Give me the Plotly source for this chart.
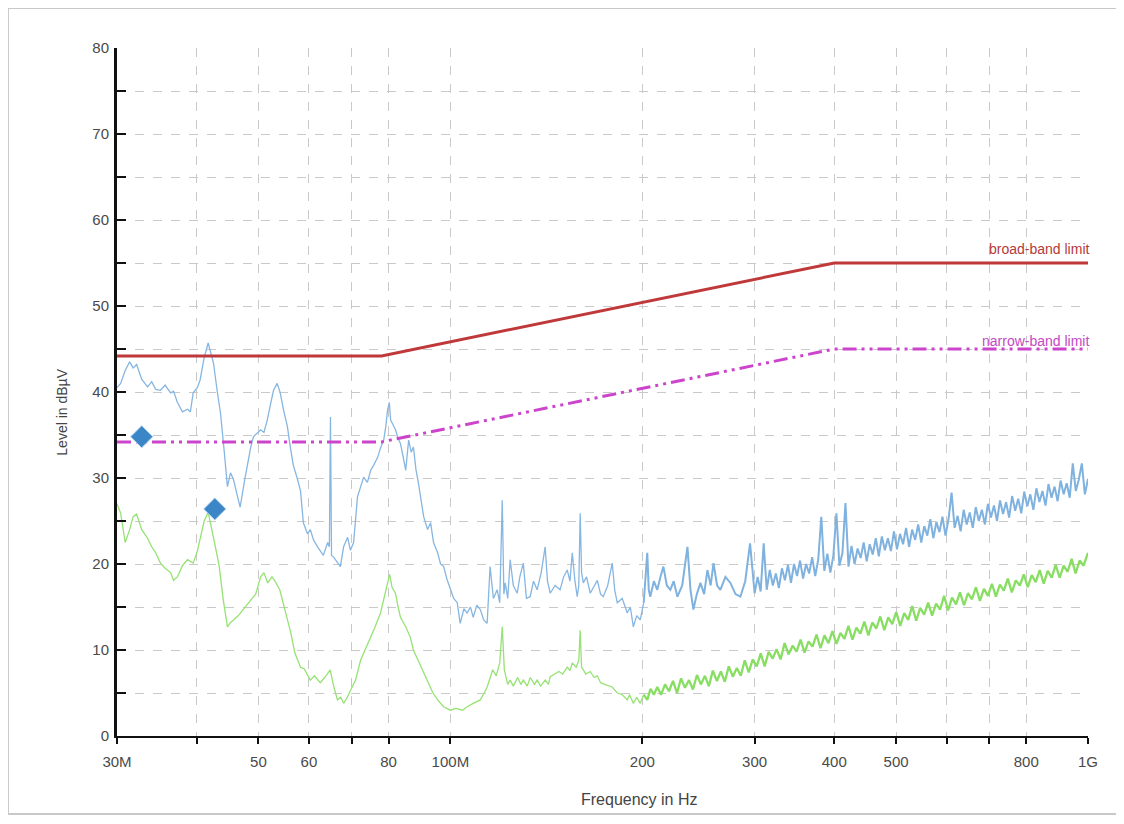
import plotly.graph_objects as go

# ---------------- data ----------------
peak_freq_mhz = [
    30.0, 30.4, 30.9, 31.4, 31.8, 32.2, 32.8, 33.5, 34.0, 34.5, 35.1, 35.7, 36.4, 36.8, 37.3, 38.0,
    38.7, 39.1, 39.5, 40.1, 40.5, 41.1, 41.7, 42.1, 42.5, 43.1, 43.6, 44.2, 44.7, 45.2, 45.7, 46.3,
    46.8, 47.5, 48.1, 48.6, 49.1, 49.8, 50.4, 51.0, 51.6, 52.2, 52.8, 53.5, 54.1, 54.7, 55.5, 56.1,
    56.7, 57.5, 58.2, 58.8, 59.7, 60.3, 61.0, 61.9, 62.5, 63.2, 64.2, 64.6, 64.85, 65.1, 65.6, 66.5,
    67.2, 68.0, 69.0, 69.7, 70.5, 71.5, 72.3, 73.1, 74.1, 75.0, 75.8, 76.9, 77.7, 78.6, 79.2, 79.7,
    80.2, 80.6, 81.3, 82.0, 82.8, 83.5, 84.3, 85.1, 86.0, 86.8, 87.5, 88.3, 89.1, 90.0, 90.8, 92.1,
    93.1, 94.1, 95.5, 96.5, 97.6, 98.8, 100.0, 101.2, 102.5, 103.6, 105.0, 106.2, 107.5, 108.6, 110.0,
    111.4, 112.8, 114.2, 115.4, 116.8, 118.4, 119.5, 120.6, 121.3, 121.9, 123.0, 124.1, 125.5, 127.3,
    128.5, 130.1, 131.6, 133.4, 135.0, 136.8, 138.8, 140.8, 142.0, 143.4, 146.0, 148.6, 150.5, 152.5,
    154.0, 155.3, 156.8, 158.1, 159.0, 159.8, 160.6, 161.6, 163.5, 165.7, 168.0, 170.0, 172.0, 173.7,
    176.5, 179.4, 181.0, 182.7, 186.0, 189.4, 191.5, 193.6, 196.0, 198.5, 201.0, 203.6, 204.7, 205.8,
    208.5, 211.1, 213.5, 215.8, 218.5, 221.3, 224.0, 227.0, 231.0, 235.4, 238.0, 240.5, 243.5, 246.7,
    250.0, 253.0, 256.0, 258.6, 262.0, 265.1, 270.0, 274.9, 280.0, 285.0, 290.0, 295.1,
    300.0, 303.3, 306.6, 310.0, 313.4, 316.9, 320.4, 323.9, 327.5, 331.1, 334.7, 338.4, 342.1, 345.9,
    349.7, 353.5, 357.4, 361.3, 365.3, 369.3, 373.4, 377.5, 381.7, 385.9, 390.1, 394.4, 398.7, 403.1,
    407.5, 412.0, 416.5, 421.1, 425.7, 430.4, 435.2, 440.0, 444.8, 449.7, 454.6, 459.6, 464.7, 469.8,
    475.0, 480.2, 485.5, 490.8, 496.2, 501.7, 507.2, 512.8, 518.4, 524.1, 529.9, 535.7, 541.6, 547.6,
    553.6, 559.7, 565.9, 572.1, 578.4, 584.8, 591.2, 597.7, 604.3, 611.0, 617.7, 624.5, 631.3, 638.3,
    645.3, 652.4, 659.6, 666.8, 674.2, 681.6, 689.1, 696.7, 704.3, 712.1, 719.9, 727.8, 735.8, 743.9,
    752.1, 760.4, 768.8, 777.2, 785.8, 794.4, 803.2, 812.0, 820.9, 830.0, 839.1, 848.3, 857.7, 867.1,
    876.6, 886.3, 896.0, 905.9, 915.9, 926.0, 936.1, 946.4, 956.8, 967.3, 978.0, 988.8, 1000.0,
]
peak_level_dbuv = [
    40.5, 41.0, 42.5, 43.5, 42.8, 43.2, 41.5, 40.6, 41.2, 40.3, 40.2, 40.8, 39.9, 40.1, 38.8, 37.7,
    38.0, 37.7, 39.9, 40.5, 41.4, 44.0, 45.7, 44.5, 43.4, 40.0, 37.5, 33.0, 29.0, 30.6, 29.8, 28.0,
    26.6, 29.5, 31.7, 33.5, 34.8, 35.2, 35.6, 35.3, 36.7, 38.5, 40.2, 41.0, 39.9, 38.0, 36.0, 33.6,
    31.5, 30.0, 28.5, 24.8, 23.5, 24.0, 22.8, 22.0, 21.6, 21.0, 22.5, 22.0, 37.1, 21.0, 20.8, 20.2,
    19.7, 22.0, 23.1, 21.6, 22.5, 27.8, 29.0, 30.1, 29.5, 30.9, 31.5, 32.4, 33.5, 34.4, 36.0, 37.9,
    38.8, 36.7, 36.2, 35.6, 34.6, 34.0, 32.5, 30.9, 34.4, 33.0, 33.6, 31.0, 29.4, 27.0, 25.5, 24.0,
    24.8, 22.5, 21.3, 20.0, 19.7, 18.2, 17.0, 16.0, 15.5, 13.1, 14.8, 14.3, 15.0, 13.8, 15.2,
    14.7, 13.5, 13.1, 19.7, 16.0, 17.0, 15.5, 27.4, 16.5, 17.8, 16.0, 20.5, 17.5, 16.6,
    18.5, 20.1, 16.0, 16.2, 18.0, 17.0, 19.0, 22.0, 18.0, 16.6, 17.5, 17.0, 18.5, 19.3,
    18.0, 21.3, 18.0, 16.2, 17.5, 25.9, 19.0, 17.8, 18.5, 16.6, 17.5, 18.1, 16.5, 16.2,
    17.5, 20.1, 17.0, 15.5, 16.0, 14.3, 15.0, 12.7, 14.0, 13.5, 15.5, 21.3, 17.0, 16.2,
    18.0, 17.0, 18.5, 19.7, 17.5, 17.0, 18.0, 16.2, 17.5, 22.0, 17.0, 14.7, 16.5, 17.8,
    16.5, 19.3, 17.5, 20.1, 17.5, 17.0, 18.5, 17.8, 16.5, 16.2, 18.0, 22.4,
    16.6, 18.5, 16.8, 22.4, 17.0, 19.3, 17.5, 18.9, 17.2, 19.5, 18.1, 19.9, 17.8, 20.0,
    18.6, 20.4, 18.3, 20.0, 18.9, 20.8, 18.6, 20.5, 25.5, 19.2, 21.2, 19.0, 21.0, 25.9,
    19.8, 21.3, 27.1, 19.7, 22.1, 20.0, 21.8, 20.7, 22.5, 20.3, 22.3, 21.1, 23.0, 20.9,
    23.2, 21.6, 23.0, 21.5, 23.8, 21.7, 23.5, 22.3, 24.2, 22.0, 24.0, 22.8, 24.6, 22.5,
    24.4, 23.3, 25.2, 23.0, 24.9, 23.7, 25.5, 23.3, 25.2, 28.3, 24.2, 25.6, 23.8, 26.3,
    24.6, 26.0, 24.2, 26.6, 25.0, 26.3, 24.6, 27.0, 25.4, 26.8, 25.0, 27.4, 25.8, 27.2,
    25.4, 27.9, 26.2, 27.6, 25.9, 28.4, 26.7, 28.1, 26.3, 28.8, 27.2, 28.5, 26.8, 29.3,
    27.7, 29.0, 27.3, 29.7, 28.1, 29.4, 27.7, 31.7, 28.5, 29.8, 31.7, 28.1, 29.9,
]

avg_freq_mhz = [
    30.0, 30.4, 30.9, 31.4, 31.8, 32.2, 32.8, 33.5, 34.0, 34.5, 35.1, 35.7, 36.4, 36.8, 37.3, 38.0,
    38.7, 39.5, 40.1, 40.5, 41.1, 41.7, 42.3, 42.8, 43.4, 44.0, 44.7, 45.2, 45.7, 46.5, 47.3, 48.6,
    49.5, 50.4, 51.0, 51.7, 52.5, 53.0, 54.0, 55.0, 56.2, 57.0, 58.2, 59.0, 60.3, 61.2, 62.5, 63.5,
    64.8, 65.5, 66.5, 67.3, 68.0, 68.9, 69.7, 71.0, 72.3, 73.5, 74.9, 76.0, 77.7, 78.6, 79.7, 80.3,
    81.0, 82.0, 82.8, 83.5, 85.1, 86.5, 87.5, 89.0, 90.6, 92.5, 93.9, 95.5, 97.6, 100.0, 102.0,
    104.5, 106.2, 108.6, 111.4, 113.0, 114.2, 116.5, 118.0, 119.5, 120.6, 121.5, 123.0, 124.1,
    125.5, 127.5, 129.0, 130.1, 132.0, 133.4, 135.5, 136.8, 138.5, 140.8, 142.5, 143.4, 145.5,
    148.0, 150.0, 152.5, 154.0, 155.3, 157.5, 159.0, 159.8, 160.6, 161.6, 163.0, 165.7, 168.0,
    170.0, 172.0, 174.5, 177.0, 179.4, 182.7, 186.0, 189.4, 191.0, 193.6, 196.0, 198.5, 201.0,
    203.6, 206.0, 208.5, 211.1,
    214.0, 217.1, 220.2, 223.4, 226.7, 230.0, 233.3, 236.7, 240.1, 243.6, 247.1, 250.7, 254.3, 258.0,
    261.8, 265.6, 269.4, 273.3, 277.3, 281.3, 285.4, 289.5, 293.7, 298.0, 302.3, 306.7, 311.1, 315.6,
    320.2, 324.8, 329.5, 334.3, 339.2, 344.1, 349.1, 354.2, 359.3, 364.5, 369.8, 375.2, 380.6, 386.1,
    391.7, 397.4, 403.2, 409.0, 414.9, 421.0, 427.1, 433.3, 439.5, 445.9, 452.4, 458.9, 465.6, 472.3,
    479.2, 486.1, 493.2, 500.3, 507.6, 514.9, 522.4, 530.0, 537.7, 545.5, 553.4, 561.4, 569.5, 577.8,
    586.2, 594.7, 603.3, 612.0, 620.9, 629.9, 639.0, 648.3, 657.7, 667.2, 676.9, 686.7, 696.7, 706.8,
    717.0, 727.4, 737.9, 748.6, 759.5, 770.5, 781.7, 793.0, 804.5, 816.2, 828.0, 840.0, 852.2, 864.6,
    877.1, 889.8, 902.7, 915.8, 929.1, 942.5, 956.2, 970.1, 984.1, 1000.0,
]
avg_level_dbuv = [
    27.0, 25.9, 22.5, 24.0, 25.5, 25.8, 24.0, 23.0, 22.0, 21.3, 20.1, 19.5, 19.0, 18.1, 18.5, 19.8,
    20.5, 20.1, 21.5, 23.0, 25.0, 26.0, 24.0, 22.0, 19.7, 16.0, 12.7, 13.2, 13.5, 14.0, 14.7, 15.8,
    16.5, 18.5, 19.0, 17.8, 18.5, 18.1, 17.0, 14.7, 12.0, 9.7, 8.0, 7.8, 6.5, 7.0, 6.2, 6.8,
    7.7, 6.0, 4.2, 4.5, 3.8, 4.5, 5.3, 6.5, 8.8, 10.0, 11.5, 12.5, 14.3, 16.0, 18.1, 18.8,
    17.3, 16.6, 15.0, 13.8, 12.7, 11.5, 10.0, 8.8, 7.7, 6.2, 5.0, 4.2, 3.4, 3.0, 3.2,
    3.0, 3.4, 3.8, 4.2, 5.0, 5.7, 7.7, 7.0, 8.5, 12.7, 7.7, 6.0, 6.5,
    5.8, 6.8, 6.0, 6.5, 5.8, 6.8, 6.0, 6.5, 5.8, 6.5, 6.0, 6.9, 7.2,
    7.5, 7.2, 8.0, 7.6, 8.5, 8.0, 8.8, 12.3, 8.0, 7.7, 7.2, 7.5, 6.8,
    7.0, 6.2, 6.0, 5.8, 5.7, 5.0, 4.8, 4.2, 4.8, 3.8, 4.5, 3.8, 4.8,
    4.2, 5.5, 4.8, 5.7,
    4.8, 6.0, 5.2, 6.4, 5.0, 6.7, 5.6, 6.5, 5.4, 7.1, 6.0, 7.0, 5.8, 7.6,
    6.4, 7.5, 6.3, 8.1, 6.9, 7.9, 7.0, 8.8, 7.4, 8.9, 8.1, 9.6, 8.1, 9.8,
    9.0, 10.1, 8.9, 10.8, 9.5, 10.5, 9.8, 11.2, 9.7, 11.0, 10.4, 11.8, 10.2, 11.7,
    10.8, 12.2, 10.7, 12.0, 11.3, 12.8, 11.2, 12.6, 11.9, 13.3, 11.7, 13.2, 12.5, 13.9,
    12.3, 13.8, 13.0, 14.4, 12.8, 14.3, 13.5, 15.1, 13.4, 14.9, 14.1, 15.5, 14.0, 15.4,
    14.7, 16.3, 14.6, 16.1, 15.3, 16.7, 15.2, 16.6, 15.9, 17.3, 15.7, 17.1, 16.3, 17.7,
    16.2, 17.6, 16.9, 18.3, 16.7, 18.1, 17.5, 18.8, 17.3, 18.7, 17.9, 19.3, 17.7, 19.2,
    18.4, 19.9, 18.4, 19.8, 19.1, 20.6, 18.9, 20.4, 19.8, 21.3,
]

broad_limit_freq_mhz = [30, 78, 400, 1000]
broad_limit_dbuv = [44.2, 44.2, 55.0, 55.0]
narrow_limit_freq_mhz = [30, 78, 400, 1000]
narrow_limit_dbuv = [34.2, 34.2, 45.0, 45.0]

marker_freq_mhz = [32.8, 42.7]
marker_level_dbuv = [34.8, 26.4]

x_tick_vals = [30, 40, 50, 60, 70, 80, 100, 200, 300, 400, 500, 600, 700, 800, 1000]
x_tick_text = ["30M", "", "50", "60", "", "80", "100M", "200", "300", "400", "500", "", "", "800", "1G"]
y_tick_vals = list(range(0, 85, 5))
y_tick_text = [str(v) if v % 10 == 0 else "" for v in y_tick_vals]

# ---------------- figure ----------------
fig = go.Figure()


def split_at(freqs, levels, f_split):
    """Split a measured trace into a sparse (low-frequency) and a dense (high-frequency) part."""
    i = next(k for k, f in enumerate(freqs) if f >= f_split)
    return (freqs[:i + 1], levels[:i + 1]), (freqs[i:], levels[i:])


(pk_lo, pk_hi) = split_at(peak_freq_mhz, peak_level_dbuv, 200)
(av_lo, av_hi) = split_at(avg_freq_mhz, avg_level_dbuv, 200)

fig.add_trace(go.Scatter(x=pk_lo[0], y=pk_lo[1], mode="lines",
                         line=dict(color="#86b6e2", width=1.3), name="Peak", hoverinfo="skip"))
fig.add_trace(go.Scatter(x=pk_hi[0], y=pk_hi[1], mode="lines",
                         line=dict(color="#7fb2df", width=2.0), name="Peak", hoverinfo="skip"))
fig.add_trace(go.Scatter(x=av_lo[0], y=av_lo[1], mode="lines",
                         line=dict(color="#96e274", width=1.3), name="Average", hoverinfo="skip"))
fig.add_trace(go.Scatter(x=av_hi[0], y=av_hi[1], mode="lines",
                         line=dict(color="#88de62", width=2.3), name="Average", hoverinfo="skip"))
fig.add_trace(go.Scatter(x=broad_limit_freq_mhz, y=broad_limit_dbuv, mode="lines",
                         line=dict(color="#c0393a", width=3), name="broad-band limit"))
fig.add_trace(go.Scatter(x=narrow_limit_freq_mhz, y=narrow_limit_dbuv, mode="lines",
                         line=dict(color="#cc44cc", width=3, dash="14px,5px,3px,5px,3px,5px"),
                         name="narrow-band limit"))
fig.add_trace(go.Scatter(x=marker_freq_mhz, y=marker_level_dbuv, mode="markers",
                         marker=dict(symbol="diamond", size=17, color="#3b86c6",
                                     line=dict(color="#a9d0f0", width=1)),
                         name="Final"))

tick_font = dict(family="Liberation Sans, Arial, sans-serif", size=15, color="#4a4a4a")

fig.update_xaxes(type="log", range=[1.47712, 3.0], tickvals=x_tick_vals, ticktext=x_tick_text,
                 showgrid=True, gridcolor="#c9c9c9", griddash="dash", gridwidth=1,
                 showline=True, linecolor="#111111", linewidth=2,
                 ticks="outside", ticklen=6, tickwidth=2, tickcolor="#111111",
                 ticklabelstandoff=5, tickfont=tick_font, zeroline=False)
fig.update_yaxes(range=[0, 80], tickvals=y_tick_vals, ticktext=y_tick_text,
                 showgrid=True, gridcolor="#c9c9c9", griddash="dash", gridwidth=1,
                 showline=True, linecolor="#111111", linewidth=3,
                 ticks="inside", ticklen=9, tickwidth=2, tickcolor="#111111",
                 ticklabelstandoff=2, tickfont=tick_font, zeroline=False)

label_font = dict(family="Liberation Sans, Arial, sans-serif", size=16, color="#444444")
fig.add_annotation(text="Frequency in Hz", xref="paper", yref="paper", x=0.5386, y=-0.093,
                   showarrow=False, font=label_font, xanchor="center", yanchor="middle")
fig.add_annotation(text="Level in dBµV", xref="paper", yref="paper", x=-0.0566, y=0.47,
                   showarrow=False, font=dict(family="Liberation Sans, Arial, sans-serif", size=14,
                                              color="#444444"),
                   textangle=-90, xanchor="center", yanchor="middle")
fig.add_annotation(text="broad-band limit", xref="paper", yref="y", x=1.003, y=56.6,
                   showarrow=False, xanchor="right", yanchor="middle",
                   font=dict(family="Liberation Sans, Arial, sans-serif", size=14, color="#b23a3a"))
fig.add_annotation(text="narrow-band limit", xref="paper", yref="y", x=1.003, y=45.9,
                   showarrow=False, xanchor="right", yanchor="middle",
                   font=dict(family="Liberation Sans, Arial, sans-serif", size=14, color="#c548c5"))

fig.add_shape(type="rect", xref="paper", yref="paper", x0=-0.1123, x1=1.0299, y0=-0.1134, y1=1.0581,
              line=dict(color="#c8c8c8", width=2), layer="below")

# page body has an 8px margin; offset margins so the plot area lands where the reference has it
fig.update_layout(width=1124, height=824, showlegend=False,
                  margin=dict(l=109, r=44, t=40, b=96),
                  plot_bgcolor="white", paper_bgcolor="white")

fig.write_html("out.html")
